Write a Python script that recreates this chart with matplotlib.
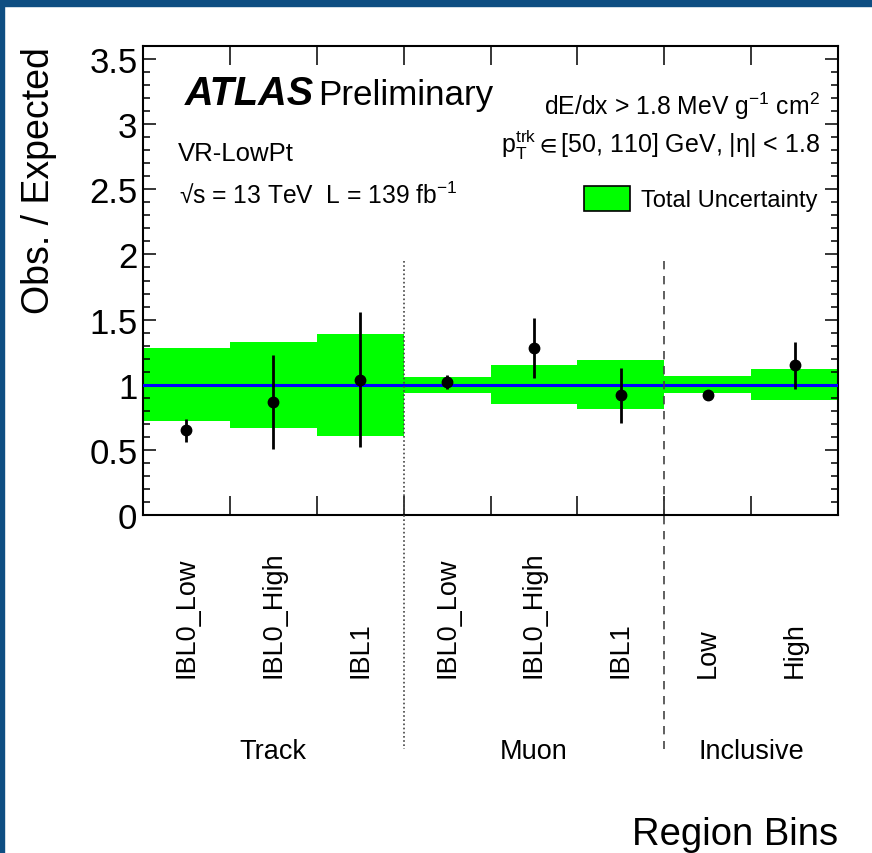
import matplotlib
matplotlib.use("Agg")
import matplotlib.pyplot as plt
import numpy as np
from matplotlib.patches import Rectangle, Patch
from matplotlib.lines import Line2D
from matplotlib.transforms import blended_transform_factory
from matplotlib.ticker import MultipleLocator, NullFormatter

plt.rcParams['font.family'] = ['Liberation Sans', 'DejaVu Sans']
plt.rcParams['mathtext.fontset'] = 'custom'
plt.rcParams['mathtext.rm'] = 'Liberation Sans'
plt.rcParams['mathtext.it'] = 'Liberation Sans:italic'
plt.rcParams['mathtext.bf'] = 'Liberation Sans:bold'
plt.rcParams['mathtext.fallback'] = 'stixsans'

# region bins
bin_labels = ["IBL0_Low", "IBL0_High", "IBL1",
              "IBL0_Low", "IBL0_High", "IBL1",
              "Low", "High"]
groups = ["Track", "Muon", "Inclusive"]
group_edges = [0, 3, 6, 8]

# observed / expected ratio with stat. error
ratio = [0.65, 0.87, 1.04, 1.02, 1.28, 0.92, 0.92, 1.15]
ratio_err = [0.09, 0.36, 0.52, 0.055, 0.23, 0.21, 0.03, 0.18]
# total uncertainty on the expectation (relative)
total_unc = [0.28, 0.33, 0.39, 0.06, 0.15, 0.19, 0.065, 0.12]

W, H = 872, 854
DPI = 100
fig = plt.figure(figsize=(W / DPI, H / DPI), dpi=DPI)

def fx(px):
    return px / W

def fy(py):
    return 1 - py / H

# frame around the slide
fig.patches.append(Rectangle((0, fy(7)), 1, 7 / H, transform=fig.transFigure,
                             color='#0e4e82', zorder=0))
fig.patches.append(Rectangle((0, 0), 4 / W, 1, transform=fig.transFigure,
                             color='#0e4e82', zorder=0))

ax_l, ax_r, ax_t, ax_b = 143, 838, 47, 516
ax = fig.add_axes([fx(ax_l), fy(ax_b), (ax_r - ax_l) / W, (ax_b - ax_t) / H])

n = len(bin_labels)
centers = np.arange(n) + 0.5
unc = np.array(total_unc)

ax.bar(centers, 2 * unc, bottom=1 - unc, width=1.0, color='#00ff00',
       edgecolor='none', zorder=1, label='Total Uncertainty')
ax.axhline(1.0, color='#0000ff', lw=2.2, zorder=3)
ax.errorbar(centers, ratio, yerr=ratio_err, fmt='o', color='black',
            markersize=7.5, elinewidth=2.0, capsize=0, zorder=5)

ax.set_xlim(0, n)
ax.set_ylim(0, 3.6)
ax.set_xticks(np.arange(n + 1))
ax.xaxis.set_major_formatter(NullFormatter())
ax.yaxis.set_minor_locator(MultipleLocator(0.1))
ax.set_yticks(np.arange(0, 3.51, 0.5))
ax.set_yticklabels(["0", "0.5", "1", "1.5", "2", "2.5", "3", "3.5"])
ax.tick_params(axis='both', which='both', direction='in', top=True, right=True)
ax.tick_params(axis='y', which='major', length=9.5, width=1.1, labelsize=25, pad=4)
ax.tick_params(axis='y', which='minor', length=5, width=1.1)
ax.tick_params(axis='x', which='major', length=13.5, width=1.1)
for sp in ax.spines.values():
    sp.set_linewidth(1.5)

ax.set_ylabel("Obs. / Expected", fontsize=27, loc='top')
ax.yaxis.set_label_coords((57 - ax_l) / (ax_r - ax_l), 1.0)
ax.set_xlabel("Region Bins", fontsize=27.5, loc='right')
ax.xaxis.label.set_va('baseline')
ax.xaxis.set_label_coords(1.0, (ax_b - 845) / (ax_b - ax_t))

# labels below the axis, text in data x and figure y
bt = blended_transform_factory(ax.transData, fig.transFigure)
for c, lab in zip(centers, bin_labels):
    ax.text(c, fy(678), lab, transform=bt, rotation=90, rotation_mode='anchor',
            ha='left', va='center', fontsize=19.5)
for i, g in enumerate(groups):
    mid = 0.5 * (group_edges[i] + group_edges[i + 1])
    ax.text(mid, fy(752), g, transform=bt, ha='center', va='center', fontsize=19.5)

# separators between Track / Muon / Inclusive
ax.add_line(Line2D([3, 3], [fy(262), fy(750)], transform=bt, color='#444444',
                   lw=1.2, ls=(0, (1, 1.5)), clip_on=False, zorder=4))
ax.add_line(Line2D([6, 6], [fy(262), fy(750)], transform=bt, color='#444444',
                   lw=1.2, ls=(0, (5, 4)), clip_on=False, zorder=4))

# annotations
fig.text(fx(185), fy(105), "ATLAS", fontsize=28.5, fontweight='bold',
         fontstyle='italic', va='baseline')
fig.text(fx(318), fy(105), "Preliminary", fontsize=25.2, va='baseline')
fig.text(fx(178), fy(161), "VR-LowPt", fontsize=18.5, va='baseline')
fig.text(fx(179), fy(203), "\u221as = 13 TeV  L = 139 fb$^{-1}$", fontsize=17.7,
         va='baseline')
fig.text(fx(820), fy(115), "dE/dx > 1.8 MeV g$^{-1}$ cm$^{2}$", fontsize=17.8,
         ha='right', va='baseline')
fig.text(fx(820), fy(153), "p$_{\\rm T}^{\\rm trk}$${\\in}$[50, 110] GeV, |\u03b7| < 1.8",
         fontsize=18, ha='right', va='baseline')

leg = ax.legend(handles=[Patch(facecolor='#00ff00', edgecolor='black', lw=1.2)],
                labels=['Total Uncertainty'], loc='lower left',
                bbox_to_anchor=(fx(584), fy(212)), bbox_transform=fig.transFigure,
                frameon=False, fontsize=17, borderpad=0, borderaxespad=0,
                handlelength=1.95, handleheight=1.25, handletextpad=0.45)

fig.savefig("out.png", dpi=DPI)
